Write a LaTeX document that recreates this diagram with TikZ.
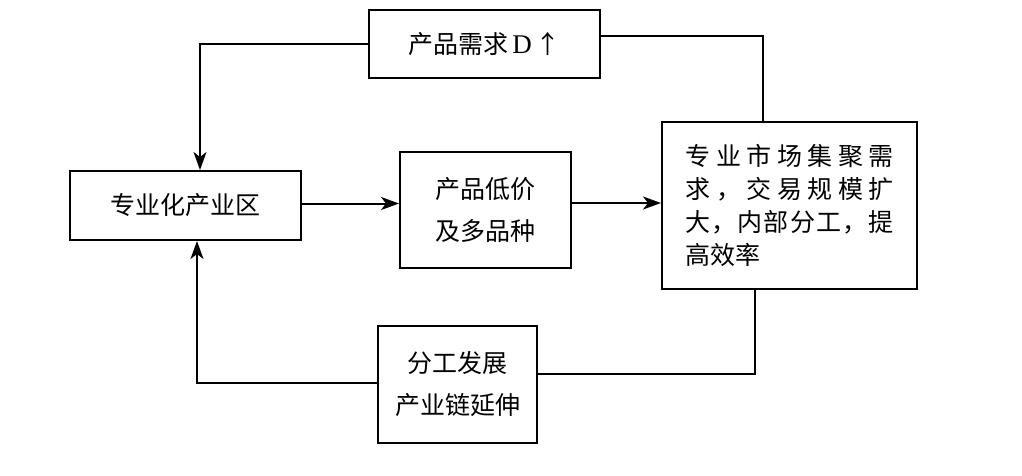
\documentclass[tikz,border=0pt]{standalone}
\usepackage{fontspec}
\setmainfont{Liberation Serif}
\newfontfamily\cjk{Noto Sans CJK SC}
\usetikzlibrary{arrows.meta}
\tikzset{
  box/.style={draw, line width=2pt, rectangle, inner sep=0pt, align=center, font=\fontsize{25}{42}\selectfont\cjk},
  conn/.style={line width=2pt},
  arr/.style={conn, -{Stealth[length=18pt,width=13pt,inset=5pt]}},
}
\begin{document}
\begin{tikzpicture}[x=1pt,y=-1pt]
\useasboundingbox (0,0) rectangle (1022,476);
\fill[white] (0,0) rectangle (1022,476);
\node[box, minimum width=231pt, minimum height=68pt] (top) at (484.5,44) {产品需求\,{\rmfamily\fontsize{27}{30}\selectfont D}\,↑};
\node[box, minimum width=231pt, minimum height=69pt] (left) at (185.5,205.5) {专业化产业区};
\node[box, minimum width=171pt, minimum height=116pt] (mid) at (485.5,210) {产品低价\\及多品种};
\node[box, minimum width=255pt, minimum height=167pt, font=\fontsize{25}{33}\selectfont\cjk, align=left] (right) at (789.5,205.5)
  {\makebox[208pt][s]{专\hfill 业\hfill 市\hfill 场\hfill 集\hfill 聚\hfill 需}\\
   \makebox[208pt][s]{求\hfill ，\hfill 交\hfill 易\hfill 规\hfill 模\hfill 扩}\\
   \makebox[208pt][s]{大\hfill ，\hfill 内\hfill 部\hfill 分\hfill 工\hfill ，\hfill 提}\\
   \makebox[208pt][l]{高效率}};
\node[box, minimum width=159pt, minimum height=117pt] (bot) at (457.5,384.5) {分工发展\\产业链延伸};
\coordinate (tl) at (200,44);
\coordinate (tr) at (763,36);
\coordinate (rb) at (755,374);
\coordinate (bl) at (197,383);
\draw[arr] (top.west) -- (tl) -- (tl |- left.north);
\draw[conn] (tr -| top.east) -- (tr) -- (tr |- right.north);
\draw[arr] ([yshift=2pt]left.east) -- ([yshift=2pt]left.east -| mid.west);
\draw[arr] ([yshift=7pt]mid.east) -- ([yshift=7pt]mid.east -| right.west);
\draw[conn] (rb |- right.south) -- (rb) -- (rb -| bot.east);
\draw[arr] (bl -| bot.west) -- (bl) -- (bl |- left.south);
\end{tikzpicture}
\end{document}
